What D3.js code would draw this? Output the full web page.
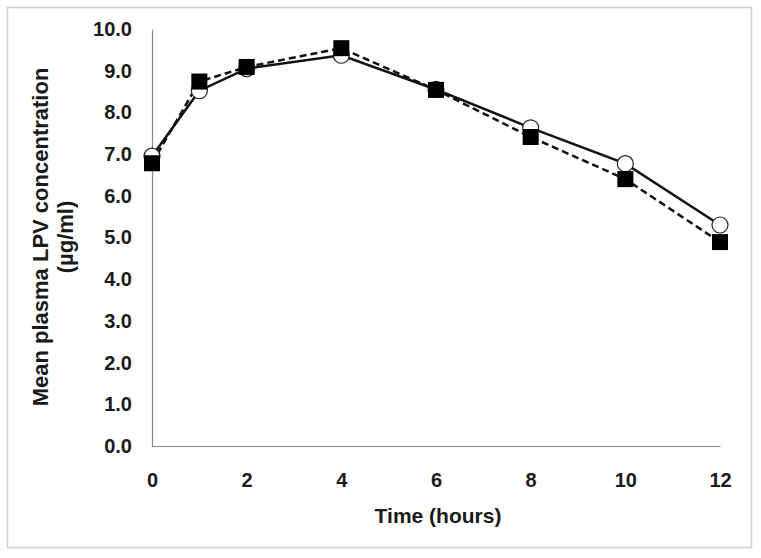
<!DOCTYPE html>
<html>
<head>
<meta charset="utf-8">
<script src="https://cdn.jsdelivr.net/npm/d3@7"></script>
<style>
body { margin: 0; background: #fff; }
text { font-family: "Liberation Sans", Arial, sans-serif; }
</style>
</head>
<body>
<script>
var hours = [0, 1, 2, 4, 6, 8, 10, 12];
var circleSeries = [6.95, 8.52, 9.05, 9.37, 8.55, 7.63, 6.77, 5.3];
var squareSeries = [6.78, 8.74, 9.09, 9.54, 8.54, 7.41, 6.4, 4.89];
var xTicks = [0, 2, 4, 6, 8, 10, 12];
var yTicks = [0, 1, 2, 3, 4, 5, 6, 7, 8, 9, 10];

var width = 761, height = 558;
var svg = d3.select("body").append("svg").attr("width", width).attr("height", height);

svg.append("rect")
    .attr("x", 7.5).attr("y", 7.5)
    .attr("width", 744).attr("height", 540)
    .attr("fill", "#fff").attr("stroke", "#d0d0d0").attr("stroke-width", 1.5);

var x = d3.scaleLinear().domain([0, 12]).range([152, 720]);
var y = d3.scaleLinear().domain([0, 10]).range([446, 29]);

// axes, no tick marks
var xAxis = svg.append("g").attr("transform", "translate(0," + y(0) + ")")
    .call(d3.axisBottom(x).tickValues(xTicks).tickSize(0).tickPadding(27).tickFormat(d3.format("d")));
var yAxis = svg.append("g").attr("transform", "translate(" + x(0) + ",0)")
    .call(d3.axisLeft(y).tickValues(yTicks).tickSize(0).tickPadding(20).tickFormat(d3.format(".1f")));
[xAxis, yAxis].forEach(function(a) {
    a.select(".domain").attr("stroke", "#8a8a8a").attr("stroke-width", 1.2);
    a.selectAll("text")
        .style("font-family", "'Liberation Sans', Arial, sans-serif")
        .style("font-size", "20px")
        .style("font-weight", "bold")
        .attr("fill", "#1a1a1a");
});

svg.append("text")
    .attr("x", 438).attr("y", 523)
    .attr("text-anchor", "middle")
    .style("font-size", "21px").style("font-weight", "bold").attr("fill", "#1a1a1a")
    .text("Time (hours)");

var yTitle = svg.append("text")
    .attr("transform", "translate(48,237) rotate(-90)")
    .attr("text-anchor", "middle")
    .style("font-size", "22px").style("font-weight", "bold").attr("fill", "#1a1a1a");
yTitle.append("tspan").attr("x", 0).attr("dy", 0).text("Mean plasma LPV concentration");
yTitle.append("tspan").attr("x", 0).attr("dy", 25).text("(\u00b5g/ml)");

var line = d3.line()
    .x(function(d, i) { return x(hours[i]); })
    .y(function(d) { return y(d); });

svg.append("path").datum(squareSeries)
    .attr("d", line).attr("fill", "none")
    .attr("stroke", "#111").attr("stroke-width", 2.5)
    .attr("stroke-dasharray", "7,4");

svg.append("path").datum(circleSeries)
    .attr("d", line).attr("fill", "none")
    .attr("stroke", "#111").attr("stroke-width", 2.5);

svg.selectAll(".circ").data(circleSeries).enter().append("circle")
    .attr("class", "circ")
    .attr("cx", function(d, i) { return x(hours[i]); })
    .attr("cy", function(d) { return y(d); })
    .attr("r", 8)
    .attr("fill", "#fff").attr("stroke", "#222").attr("stroke-width", 1.2);

var sq = 16;
svg.selectAll(".sq").data(squareSeries).enter().append("rect")
    .attr("class", "sq")
    .attr("x", function(d, i) { return x(hours[i]) - sq / 2; })
    .attr("y", function(d) { return y(d) - sq / 2; })
    .attr("width", sq).attr("height", sq)
    .attr("fill", "#000");
</script>
</body>
</html>
